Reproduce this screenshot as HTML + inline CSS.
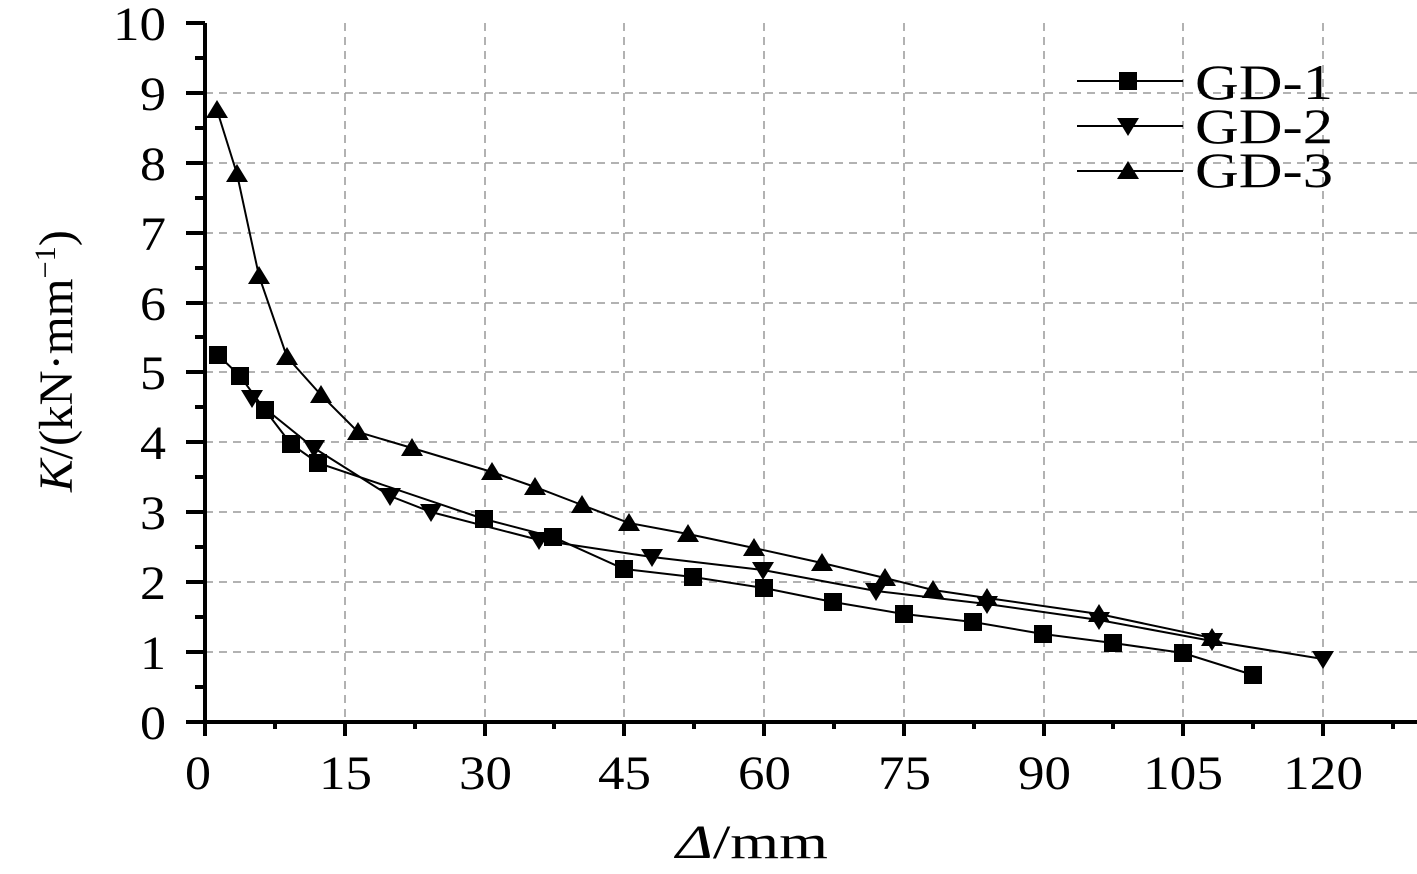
<!DOCTYPE html>
<html><head><meta charset="utf-8"><style>
html,body{margin:0;padding:0;background:#fff;}
svg{display:block;font-family:"Liberation Serif",serif;}
</style></head><body>
<svg width="1417" height="874" viewBox="0 0 1417 874" xmlns="http://www.w3.org/2000/svg">
<defs>
<path id="sq" d="M-9,-9h18v18h-18z" fill="#000"/>
<path id="up" d="M0,-10L11,8H-11Z" fill="#000"/>
<path id="dn" d="M0,10L11,-8H-11Z" fill="#000"/>
</defs>
<g stroke="#999" stroke-width="1.5" stroke-dasharray="8,6" fill="none">
<path d="M345,23V722M485,23V722M624,23V722M764,23V722M904,23V722M1044,23V722M1183,23V722M1323,23V722"/>
<path d="M205,652H1417M205,582H1417M205,512H1417M205,442H1417M205,372H1417M205,303H1417M205,233H1417M205,163H1417M205,93H1417"/>
</g>
<g stroke="#000" stroke-width="4" fill="none">
<path d="M205,23V724M203,722H1417"/>
<path d="M186,722H205M186,652H205M186,582H205M186,512H205M186,442H205M186,372H205M186,303H205M186,233H205M186,163H205M186,93H205M186,23H205"/>
<path d="M195,687H205M195,617H205M195,547H205M195,477H205M195,407H205M195,337H205M195,268H205M195,198H205M195,128H205M195,58H205"/>
<path d="M205,722V736M345,722V736M485,722V736M624,722V736M764,722V736M904,722V736M1044,722V736M1183,722V736M1323,722V736"/>
<path d="M275,722V729M415,722V729M554,722V729M694,722V729M834,722V729M974,722V729M1113,722V729M1253,722V729M1393,722V729"/>
</g>
<g stroke="#000" stroke-width="2" fill="none">
<polyline points="218,355 240,376 265,410 291,444 318,463 484,519 553,537 624,569 693,577 764,588 833,602 904,614 973,622 1043,634 1113,643 1183,653 1253,675"/>
<polyline points="252,398 314,448 390,496 431,512 539,540 652,557 763,570 876,591 987,604 1099,620 1212,641 1323,659"/>
<polyline points="217,110 237,174 259,276 287,357 321,395 358,432 412,448 492,472 535,487 582,505 629,523 688,534 754,548 822,563 885,578 933,590 987,598 1099,614 1212,638"/>
<path d="M1077,81H1183M1077,126H1183M1077,171H1183"/>
</g>
<g>
<use href="#sq" x="218" y="355"/><use href="#sq" x="240" y="376"/><use href="#sq" x="265" y="410"/><use href="#sq" x="291" y="444"/><use href="#sq" x="318" y="463"/><use href="#sq" x="484" y="519"/><use href="#sq" x="553" y="537"/><use href="#sq" x="624" y="569"/><use href="#sq" x="693" y="577"/><use href="#sq" x="764" y="588"/><use href="#sq" x="833" y="602"/><use href="#sq" x="904" y="614"/><use href="#sq" x="973" y="622"/><use href="#sq" x="1043" y="634"/><use href="#sq" x="1113" y="643"/><use href="#sq" x="1183" y="653"/><use href="#sq" x="1253" y="675"/>
<use href="#dn" x="252" y="398"/><use href="#dn" x="314" y="448"/><use href="#dn" x="390" y="496"/><use href="#dn" x="431" y="512"/><use href="#dn" x="539" y="540"/><use href="#dn" x="652" y="557"/><use href="#dn" x="763" y="570"/><use href="#dn" x="876" y="591"/><use href="#dn" x="987" y="604"/><use href="#dn" x="1099" y="620"/><use href="#dn" x="1212" y="641"/><use href="#dn" x="1323" y="659"/>
<use href="#up" x="217" y="110"/><use href="#up" x="237" y="174"/><use href="#up" x="259" y="276"/><use href="#up" x="287" y="357"/><use href="#up" x="321" y="395"/><use href="#up" x="358" y="432"/><use href="#up" x="412" y="448"/><use href="#up" x="492" y="472"/><use href="#up" x="535" y="487"/><use href="#up" x="582" y="505"/><use href="#up" x="629" y="523"/><use href="#up" x="688" y="534"/><use href="#up" x="754" y="548"/><use href="#up" x="822" y="563"/><use href="#up" x="885" y="578"/><use href="#up" x="933" y="590"/><use href="#up" x="987" y="598"/><use href="#up" x="1099" y="614"/><use href="#up" x="1212" y="638"/>
<use href="#sq" x="1128" y="81"/><use href="#dn" x="1128" y="126"/><use href="#up" x="1128" y="171"/>
</g>
<g font-size="50" fill="#000" lengthAdjust="spacingAndGlyphs">
<text x="1195" y="99" textLength="138" lengthAdjust="spacingAndGlyphs">GD-1</text><text x="1195" y="143" textLength="138" lengthAdjust="spacingAndGlyphs">GD-2</text><text x="1195" y="187" textLength="138" lengthAdjust="spacingAndGlyphs">GD-3</text>
</g>
<g font-size="48" fill="#000">
<text x="140" y="739" textLength="26" lengthAdjust="spacingAndGlyphs">0</text><text x="140" y="669" textLength="26" lengthAdjust="spacingAndGlyphs">1</text><text x="140" y="599" textLength="26" lengthAdjust="spacingAndGlyphs">2</text><text x="140" y="529" textLength="26" lengthAdjust="spacingAndGlyphs">3</text><text x="140" y="459" textLength="26" lengthAdjust="spacingAndGlyphs">4</text><text x="140" y="389" textLength="26" lengthAdjust="spacingAndGlyphs">5</text><text x="140" y="320" textLength="26" lengthAdjust="spacingAndGlyphs">6</text><text x="140" y="250" textLength="26" lengthAdjust="spacingAndGlyphs">7</text><text x="140" y="180" textLength="26" lengthAdjust="spacingAndGlyphs">8</text><text x="140" y="110" textLength="26" lengthAdjust="spacingAndGlyphs">9</text><text x="113" y="40" textLength="53" lengthAdjust="spacingAndGlyphs">10</text>
</g>
<g font-size="48" fill="#000">
<text x="185" y="789" textLength="26" lengthAdjust="spacingAndGlyphs">0</text>
<text x="319" y="789" textLength="53" lengthAdjust="spacingAndGlyphs">15</text>
<text x="459" y="789" textLength="53" lengthAdjust="spacingAndGlyphs">30</text>
<text x="598" y="789" textLength="53" lengthAdjust="spacingAndGlyphs">45</text>
<text x="738" y="789" textLength="53" lengthAdjust="spacingAndGlyphs">60</text>
<text x="878" y="789" textLength="53" lengthAdjust="spacingAndGlyphs">75</text>
<text x="1018" y="789" textLength="53" lengthAdjust="spacingAndGlyphs">90</text>
<text x="1143" y="789" textLength="80" lengthAdjust="spacingAndGlyphs">105</text>
<text x="1283" y="789" textLength="80" lengthAdjust="spacingAndGlyphs">120</text>
<text x="676" y="858" textLength="152" lengthAdjust="spacingAndGlyphs"><tspan font-style="italic">Δ</tspan>/mm</text>
</g>
<text font-size="48" fill="#000" transform="translate(72,492) rotate(-90)" textLength="262" lengthAdjust="spacingAndGlyphs"><tspan font-style="italic">K</tspan>/(kN·mm<tspan font-size="30" dy="-17">−1</tspan><tspan dy="17">)</tspan></text>
</svg>
</body></html>
